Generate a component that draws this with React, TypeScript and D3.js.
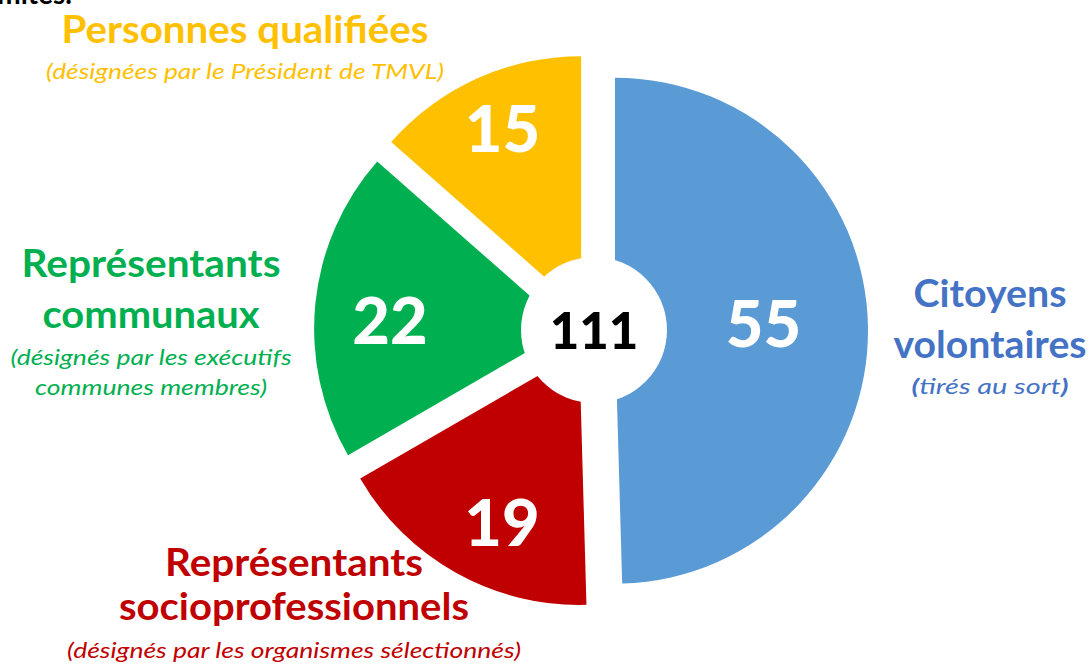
import React from "react";
import * as d3 from "d3";

// ---- Data ----
const categories = [
  "Citoyens volontaires",
  "Représentants socioprofessionnels",
  "Représentants communaux",
  "Personnes qualifiées",
];
const values = [55, 19, 22, 15];
const sliceColors = ["#5B9BD5", "#C00000", "#00B050", "#FFC000"];
const textColors = ["#4472C4", "#C00000", "#00B050", "#FFC000"];
const titleLines = [
  ["Citoyens", "volontaires"],
  ["Représentants", "socioprofessionnels"],
  ["Représentants", "communaux"],
  ["Personnes qualifiées"],
];
const noteLines = [
  ["tirés au sort"],
  ["(désignés par les organismes sélectionnés)"],
  ["(désignés par les exécutifs", "communes membres)"],
  ["(désignées par le Président de TMVL)"],
];

// ---- Layout ----
const W = 1091;
const H = 668;
const center = { x: 591, y: 331 };
const R = 253;
const explode = 24;
const hole = { x: 594, y: 330, r: 73 };
const FONT = "Lato, 'Open Sans', 'Noto Sans', sans-serif";
const titleSize = 38.4;
const noteSize = 21.5;
const numSize = 65;
const totalSize = 51;

// per-slice label placement (angle in degrees, radius from slice centre)
const numberPlacement = [
  { a: 87.2, r: 148.7 },
  { a: 204.4, r: 187.2 },
  { a: 272.6, r: 177.3 },
  { a: 336.5, r: 197 },
];

// text block layout per category: centre x, baselines, text lengths
const textLayout = [
  { x: 990, title: [307, 358], titleLen: [153, 193], note: [394], noteLen: [157] },
  { x: 294, title: [576, 620], titleLen: [258, 350], note: [658], noteLen: [454] },
  { x: 151, title: [277, 328], titleLen: [259, 217], note: [365, 395], noteLen: [281, 232] },
  { x: 245, title: [43], titleLen: [367], note: [79], noteLen: [398] },
];

export default function App() {
  const pie = d3
    .pie<number>()
    .sort(null)
    .startAngle(0)
    .endAngle(2 * Math.PI);
  const arcs = pie(values);
  const arcGen = d3.arc<d3.PieArcDatum<number>>().innerRadius(0).outerRadius(R);
  const total = d3.sum(values);

  return (
    <svg
      width={W}
      height={H}
      viewBox={`0 0 ${W} ${H}`}
      style={{ position: "absolute", left: 0, top: 0, background: "#fff" }}
      fontFamily={FONT}
    >
      <rect width={W} height={H} fill="#fff" />
      <text x={72} y={4} textAnchor="end" fontSize={28} fontWeight={700} fill="#000">
        limités.
      </text>
      {arcs.map((a, i) => {
        const mid = (a.startAngle + a.endAngle) / 2;
        const ox = center.x + Math.sin(mid) * explode;
        const oy = center.y - Math.cos(mid) * explode;
        const np = numberPlacement[i];
        const na = (np.a * Math.PI) / 180;
        const lx = ox + Math.sin(na) * np.r;
        const ly = oy - Math.cos(na) * np.r;
        return (
          <g key={categories[i]}>
            <path d={arcGen(a) || ""} transform={`translate(${ox},${oy})`} fill={sliceColors[i]} />
            <text
              x={lx}
              y={ly + numSize * 0.358}
              textAnchor="middle"
              fontSize={numSize}
              fontWeight={900}
              fill="#fff"
            >
              {values[i]}
            </text>
          </g>
        );
      })}
      <circle cx={hole.x} cy={hole.y} r={hole.r} fill="#fff" />
      <text
        x={hole.x}
        y={hole.y + totalSize * 0.36 + 1}
        textAnchor="middle"
        fontSize={totalSize}
        fontWeight={900}
        fill="#000"
      >
        {total}
      </text>
      {categories.map((c, i) => {
        const L = textLayout[i];
        return (
          <g key={"lbl" + c} fill={textColors[i]} textAnchor="middle">
            {titleLines[i].map((t, j) => (
              <text
                key={"t" + j}
                x={L.x}
                y={L.title[j]}
                fontSize={titleSize}
                fontWeight={700}
                textLength={L.titleLen[j]}
                lengthAdjust="spacingAndGlyphs"
              >
                {t}
              </text>
            ))}
            {noteLines[i].map((t, j) =>
              i === 0 ? (
                <text
                  key={"n" + j}
                  x={L.x}
                  y={L.note[j]}
                  fontSize={noteSize}
                  fontStyle="italic"
                  textLength={L.noteLen[j]}
                  lengthAdjust="spacingAndGlyphs"
                >
                  <tspan fontWeight={700}>(</tspan>
                  {t}
                  <tspan fontWeight={700}>)</tspan>
                </text>
              ) : (
                <text
                  key={"n" + j}
                  x={L.x}
                  y={L.note[j]}
                  fontSize={noteSize}
                  fontStyle="italic"
                  textLength={L.noteLen[j]}
                  lengthAdjust="spacingAndGlyphs"
                >
                  {t}
                </text>
              )
            )}
          </g>
        );
      })}
    </svg>
  );
}
